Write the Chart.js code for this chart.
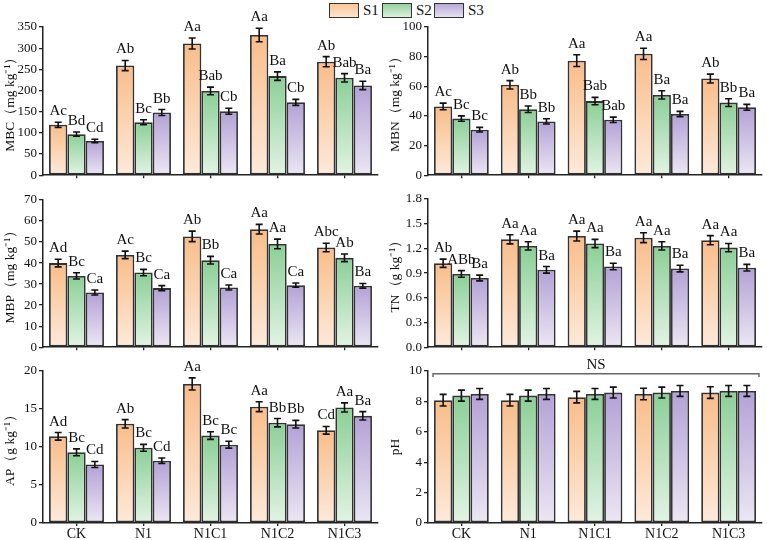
<!DOCTYPE html>
<html><head><meta charset="utf-8">
<script src="https://cdn.jsdelivr.net/npm/chart.js@4.4.1/dist/chart.umd.min.js"></script>
<style>
body{margin:0;background:#fff;width:767px;height:540px;position:relative;overflow:hidden;font-family:'Liberation Serif','Times New Roman',serif}
canvas{position:absolute}
.lbox{position:absolute;top:3px;width:28px;height:13px;border:1.5px solid #333}
.ltxt{position:absolute;top:0px;font-size:15px;color:#111;line-height:20px}
</style></head>
<body>
<div class="lbox" style="left:329px;background:linear-gradient(#FAC596,#FDE6D2)"></div><div class="ltxt" style="left:363px">S1</div>
<div class="lbox" style="left:382px;background:linear-gradient(#93D39D,#DDF1DF)"></div><div class="ltxt" style="left:416px">S2</div>
<div class="lbox" style="left:434px;background:linear-gradient(#B9A8D9,#E6E0F1)"></div><div class="ltxt" style="left:468px">S3</div>

<canvas id="cMBC" width="385" height="185" style="left:0;top:0"></canvas>
<canvas id="cMBN" width="382" height="185" style="left:385px;top:0"></canvas>
<canvas id="cMBP" width="385" height="172" style="left:0;top:185px"></canvas>
<canvas id="cTN" width="382" height="172" style="left:385px;top:185px"></canvas>
<canvas id="cAP" width="385" height="183" style="left:0;top:357px"></canvas>
<canvas id="cPH" width="382" height="183" style="left:385px;top:357px"></canvas>
<script>
const categories = ['CK','N1','N1C1','N1C2','N1C3'];
const seriesNames = ['S1','S2','S3'];

const mbcMeans = [[119,259,311,331,268],[97,125,199,234,230],[81,148,151,172,212]];
const mbcErrors = [[6,12,13,16,12],[5,6,9,10,10],[4,7,7,7,10]];
const mbcLetters = [['Ac','Ab','Aa','Aa','Ab'],['Bd','Bc','Bab','Ba','Bab'],['Cd','Bb','Cb','Cb','Ba']];
const mbcTicks = [0,50,100,150,200,250,300,350];

const mbnMeans = [[46.4,61,77.3,81.9,65.2],[38.2,44.5,50,54.2,49],[30.7,36.3,37.4,41.3,45.8]];
const mbnErrors = [[2.2,2.8,4,3.8,3],[1.8,2.2,2.5,2.8,2.6],[1.6,1.8,1.8,1.8,2]];
const mbnLetters = [['Ac','Ab','Aa','Aa','Ab'],['Bc','Bb','Bab','Ba','Bb'],['Bc','Bb','Bab','Ba','Ba']];
const mbnTicks = [0,20,40,60,80,100];

const mbpMeans = [[40,43.9,52.7,56.1,47.4],[33.9,35.5,41.4,49.1,42.5],[26,28.1,28.4,29.5,29.2]];
const mbpErrors = [[1.8,1.8,2.5,2.3,2],[1.5,1.5,1.8,2.3,1.8],[1.2,1.2,1.2,1,1.1]];
const mbpLetters = [['Ad','Ac','Ab','Aa','Abc'],['Bc','Bc','Bb','Aa','Ab'],['Ca','Ca','Ca','Ca','Ba']];
const mbpTicks = [0,10,20,30,40,50,60,70];

const tnMeans = [[1.02,1.31,1.35,1.33,1.30],[0.89,1.23,1.26,1.23,1.21],[0.84,0.94,0.98,0.955,0.966]];
const tnErrors = [[0.05,0.055,0.06,0.06,0.055],[0.04,0.05,0.05,0.05,0.05],[0.035,0.04,0.04,0.04,0.04]];
const tnLetters = [['Ab','Aa','Aa','Aa','Aa'],['ABb','Aa','Aa','Aa','Aa'],['Ba','Ba','Ba','Ba','Ba']];
const tnTicks = [0,0.3,0.6,0.9,1.2,1.5,1.8];

const apMeans = [[11.4,13.05,18.3,15.3,12.2],[9.3,9.9,11.5,13.2,15.2],[7.7,8.2,10.3,13.0,14.1]];
const apErrors = [[0.5,0.55,0.8,0.65,0.5],[0.45,0.45,0.5,0.55,0.6],[0.4,0.35,0.45,0.5,0.55]];
const apLetters = [['Ad','Ab','Aa','Aa','Cd'],['Bc','Bc','Bc','Bb','Aa'],['Cd','Cd','Bc','Bb','Ba']];
const apTicks = [0,5,10,15,20];

const phMeans = [[8.08,8.08,8.28,8.49,8.58],[8.38,8.38,8.49,8.58,8.69],[8.49,8.49,8.58,8.69,8.69]];
const phErrors = [[0.38,0.38,0.38,0.38,0.38],[0.36,0.36,0.36,0.36,0.36],[0.36,0.36,0.36,0.36,0.36]];
const phTicks = [0,2,4,6,8,10];
const phNote = 'NS';

const topColors = ['#F9BD8A','#8BCF96','#B3A1D6'];
const botColors = ['#FEEADA','#E2F4E4','#ECE7F4'];
const FONT = "'Liberation Serif', 'Times New Roman', serif";

function makeGrad(i){
  return function(ctx){
    const chart = ctx.chart;
    if(!chart.chartArea || ctx.type !== 'data') return topColors[i];
    const ys = chart.scales.y;
    const yt = ys.getPixelForValue(ctx.raw);
    const yb = ys.getPixelForValue(0);
    const g = chart.ctx.createLinearGradient(0, yt, 0, yb);
    g.addColorStop(0, topColors[i]);
    g.addColorStop(1, botColors[i]);
    return g;
  };
}

function errPlugin(means, errors, letters, note){
  return {
    id: 'errbars',
    afterDatasetsDraw(chart){
      const c = chart.ctx, ys = chart.scales.y;
      c.save();
      for(let i=0;i<means.length;i++){
        const meta = chart.getDatasetMeta(i);
        meta.data.forEach((el, j) => {
          const v = means[i][j], e = errors[i][j];
          const yT = ys.getPixelForValue(v+e), yB = ys.getPixelForValue(v-e);
          const x = el.x;
          c.strokeStyle = '#111'; c.lineWidth = 1.6;
          c.beginPath();
          c.moveTo(x, yT); c.lineTo(x, yB);
          c.moveTo(x-3.5, yT); c.lineTo(x+3.5, yT);
          c.moveTo(x-3.5, yB); c.lineTo(x+3.5, yB);
          c.stroke();
          if(letters){
            c.fillStyle = '#111';
            c.font = '15px ' + FONT;
            c.textAlign = 'center'; c.textBaseline = 'alphabetic';
            c.fillText(letters[i][j], x, yT - 7);
          }
        });
      }
      if(note){
        const ca = chart.chartArea;
        const yL = ys.getPixelForValue(9.82), yE = ys.getPixelForValue(9.6);
        const x0 = ca.left + 5, x1 = ca.right - 3;
        c.strokeStyle = '#666'; c.lineWidth = 1.4;
        c.beginPath();
        c.moveTo(x0, yE); c.lineTo(x0, yL); c.lineTo(x1, yL); c.lineTo(x1, yE);
        c.stroke();
        c.fillStyle = '#111'; c.font = '15px ' + FONT;
        c.textAlign = 'center'; c.textBaseline = 'alphabetic';
        c.fillText(note, (x0+x1)/2, yL - 5);
      }
      c.restore();
    }
  };
}

function makePanel(id, means, errors, letters, ticks, title, showX, padTop, padRight, dec, note){
  const datasets = seriesNames.map((s, i) => ({
    label: s,
    data: means[i],
    backgroundColor: makeGrad(i),
    borderColor: '#333',
    borderWidth: 1.8,
    borderSkipped: false,
    categoryPercentage: 0.82,
    barPercentage: 1.0
  }));
  new Chart(document.getElementById(id), {
    type: 'bar',
    data: { labels: categories, datasets },
    options: {
      responsive: false,
      animation: false,
      layout: { padding: { top: padTop, right: padRight, left: 0, bottom: 0 } },
      plugins: { legend: { display: false }, tooltip: { enabled: false } },
      scales: {
        x: {
          offset: true,
          grid: { display: true, drawOnChartArea: false, drawTicks: true, tickLength: 3, offset: false, color: '#222', lineWidth: 1.3 },
          border: { display: true, color: '#222', width: 1.5 },
          ticks: { display: showX, color: '#111', font: { family: FONT, size: 14 }, padding: 0, maxRotation: 0 },
          afterFit: s => { s.height = showX ? 17 : 4; }
        },
        y: {
          min: ticks[0], max: ticks[ticks.length-1],
          afterBuildTicks: s => { s.ticks = ticks.map(v => ({ value: v })); },
          grid: { display: true, drawOnChartArea: false, drawTicks: true, tickLength: 4, color: '#222', lineWidth: 1.3 },
          border: { display: true, color: '#222', width: 1.5 },
          ticks: { color: '#111', font: { family: FONT, size: 13 }, padding: 2, callback: v => Number(v).toFixed(dec) },
          title: { display: true, text: title, color: '#111', font: { family: FONT, size: 13.5 }, padding: { top: 2, bottom: 0 } },
          afterFit: s => { s.width = 43; }
        }
      }
    },
    plugins: [errPlugin(means, errors, letters, note)]
  });
}

makePanel('cMBC', mbcMeans, mbcErrors, mbcLetters, mbcTicks, 'MBC（mg kg⁻¹）', false, 27, 7, 0);
makePanel('cMBN', mbnMeans, mbnErrors, mbnLetters, mbnTicks, 'MBN（mg kg⁻¹）', false, 27, 5, 0);
makePanel('cMBP', mbpMeans, mbpErrors, mbpLetters, mbpTicks, 'MBP（mg kg⁻¹）', false, 15, 7, 0);
makePanel('cTN', tnMeans, tnErrors, tnLetters, tnTicks, 'TN（g kg⁻¹）', false, 14, 5, 1);
makePanel('cAP', apMeans, apErrors, apLetters, apTicks, 'AP（g kg⁻¹）', true, 14, 7, 0);
makePanel('cPH', phMeans, phErrors, null, phTicks, 'pH', true, 14, 5, 0, phNote);
</script>
</body></html>
